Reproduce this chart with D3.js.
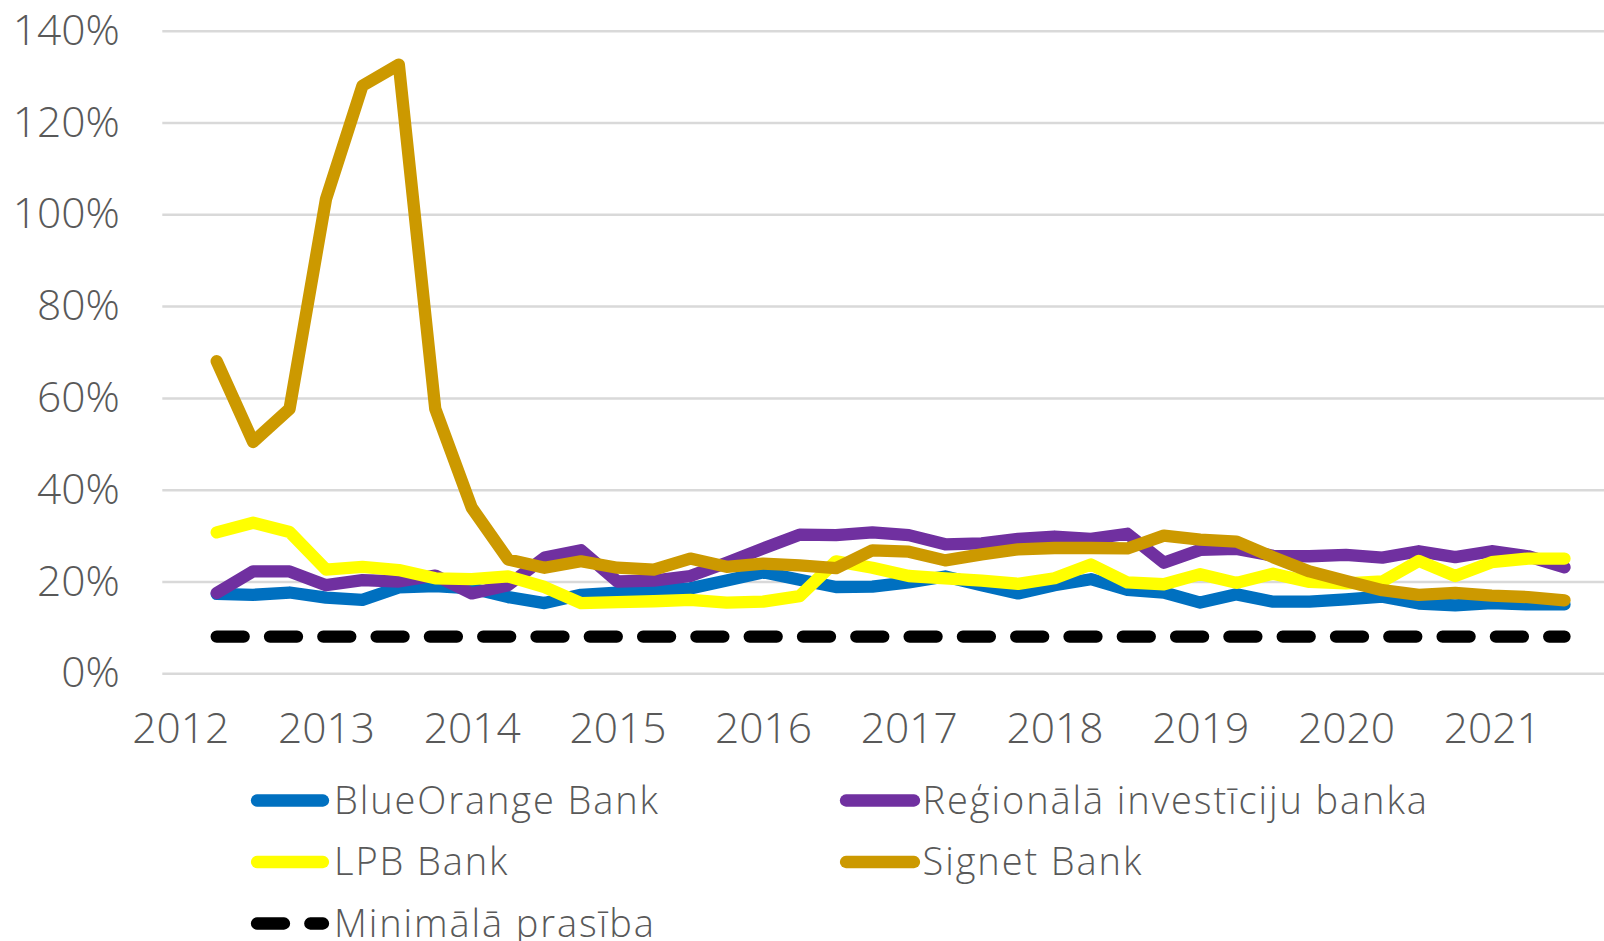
<!DOCTYPE html>
<html>
<head>
<meta charset="utf-8">
<script src="https://cdn.jsdelivr.net/npm/d3@7"></script>
<style>
  body { margin: 0; background: #fff; }
  svg { display: block; font-family: "Open Sans", "Noto Sans", sans-serif; font-weight: 300; }
</style>
</head>
<body>
<div id="vis"></div>
<script>
// quarters 2012Q2 .. 2021Q3 (38 points), values in %
const years = [2012, 2013, 2014, 2015, 2016, 2017, 2018, 2019, 2020, 2021];
const yTicks = [0, 20, 40, 60, 80, 100, 120, 140];

const blueOrange = [17.3, 17.1, 17.6, 16.5, 16.0, 18.7, 19.0, 18.5, 16.6, 15.3,
                    17.1, 17.6, 18.0, 18.5, 20.2, 22.0, 20.4, 18.8, 18.9, 19.8,
                    21.1, 19.2, 17.4, 19.2, 20.5, 18.2, 17.6, 15.4, 17.2, 15.6,
                    15.6, 16.1, 16.7, 15.2, 14.8, 15.3, 15.0, 15.0];
const regionala = [17.5, 22.2, 22.2, 19.2, 20.3, 20.0, 21.3, 17.4, 19.2, 25.2,
                   26.8, 20.0, 20.2, 21.2, 24.1, 27.2, 30.2, 30.1, 30.7, 30.1,
                   28.1, 28.3, 29.3, 29.8, 29.3, 30.4, 24.1, 26.9, 27.1, 25.6,
                   25.5, 25.8, 25.2, 26.6, 25.3, 26.6, 25.5, 23.1];
const lpb = [30.7, 32.8, 30.8, 22.6, 23.2, 22.5, 20.7, 20.5, 21.1, 18.8,
             15.3, 15.5, 15.7, 16.0, 15.4, 15.6, 16.8, 24.4, 23.0, 21.2,
             20.7, 20.2, 19.5, 20.7, 23.7, 19.8, 19.4, 21.6, 19.7, 21.7,
             19.9, 19.6, 20.0, 24.5, 21.2, 24.2, 25.0, 25.0];
const signet = [68.0, 50.4, 57.6, 103.3, 128.0, 132.6, 57.6, 36.1, 24.8, 23.0,
                24.4, 23.0, 22.6, 25.0, 23.2, 23.9, 23.5, 22.9, 26.8, 26.5,
                24.6, 25.9, 27.0, 27.3, 27.3, 27.2, 30.0, 29.1, 28.7, 25.3,
                22.2, 20.1, 18.1, 17.1, 17.5, 16.9, 16.6, 15.9];
const minimala = [8, 8, 8, 8, 8, 8, 8, 8, 8, 8,
                  8, 8, 8, 8, 8, 8, 8, 8, 8, 8,
                  8, 8, 8, 8, 8, 8, 8, 8, 8, 8,
                  8, 8, 8, 8, 8, 8, 8, 8];

const seriesNames = ["BlueOrange Bank", "Reģionālā investīciju banka", "LPB Bank", "Signet Bank", "Minimālā prasība"];
const seriesValues = [blueOrange, regionala, lpb, signet, minimala];
const seriesColors = ["#0070C0", "#7030A0", "#FFFF00", "#CC9900", "#000000"];
const seriesDashed = [false, false, false, false, true];

const WIDTH = 1604;
const HEIGHT = 941;
const PLOT_LEFT = 162.3;
const PLOT_RIGHT = 1604;
const PLOT_TOP = 30.7;
const PLOT_BOTTOM = 673.3;
const LINE_WIDTH = 12.3;
const TEXT_COLOR = "#595959";
const AXIS_FONT = 42.5;
const LEGEND_FONT = 38;

// x: quarter offset from 2012Q1
const x = d3.scaleLinear().domain([1, 38]).range([216.7, 1564.5]);
const y = d3.scaleLinear().domain([0, 140]).range([PLOT_BOTTOM, PLOT_TOP]);

const svg = d3.select("#vis").append("svg")
    .attr("width", WIDTH)
    .attr("height", HEIGHT);

svg.append("rect").attr("width", WIDTH).attr("height", HEIGHT).attr("fill", "#fff");

// y axis + gridlines
const yAxis = svg.append("g")
    .attr("transform", "translate(" + PLOT_LEFT + ",0)")
    .call(d3.axisLeft(y)
        .tickValues(yTicks)
        .tickSize(-(PLOT_RIGHT - PLOT_LEFT))
        .tickPadding(42.5)
        .tickFormat(function (d) { return d + "%"; }))
    .attr("font-family", null)
    .attr("font-size", AXIS_FONT);
yAxis.select(".domain").remove();
yAxis.selectAll("line").attr("stroke", "#D9D9D9").attr("stroke-width", 2.5);
yAxis.selectAll("text")
    .attr("fill", TEXT_COLOR)
    .attr("dy", "0.32em");

// x axis labels (years at Q1 positions)
const xAxis = svg.append("g")
    .attr("transform", "translate(0," + PLOT_BOTTOM + ")")
    .call(d3.axisBottom(x)
        .tickValues(years.map(function (yr) { return (yr - 2012) * 4; }))
        .tickSize(0)
        .tickPadding(39.6)
        .tickFormat(function (d) { return 2012 + d / 4; }))
    .attr("font-family", null)
    .attr("font-size", AXIS_FONT);
xAxis.select(".domain").remove();
xAxis.selectAll("text")
    .attr("fill", TEXT_COLOR);

// series lines
const line = d3.line()
    .x(function (d, i) { return x(i + 1); })
    .y(function (d) { return y(d); });

svg.append("g").selectAll("path")
    .data(seriesValues)
    .enter()
    .append("path")
    .attr("d", line)
    .attr("fill", "none")
    .attr("stroke", function (d, i) { return seriesColors[i]; })
    .attr("stroke-width", LINE_WIDTH)
    .attr("stroke-linecap", "round")
    .attr("stroke-linejoin", "round")
    .attr("stroke-dasharray", function (d, i) { return seriesDashed[i] ? "27 26.3" : null; });

// legend, two columns
const legendCols = [257, 846];
const legendRows = [800.5, 862, 923.5];
const legend = svg.append("g").selectAll("g")
    .data(seriesNames)
    .enter()
    .append("g")
    .attr("transform", function (d, i) {
        return "translate(" + legendCols[i % 2] + "," + legendRows[Math.floor(i / 2)] + ")";
    });

legend.append("line")
    .attr("x1", 0)
    .attr("x2", function (d, i) { return i % 2 ? 68 : 66; })
    .attr("y1", 0)
    .attr("y2", 0)
    .attr("stroke", function (d, i) { return seriesColors[i]; })
    .attr("stroke-width", LINE_WIDTH)
    .attr("stroke-linecap", "round")
    .attr("stroke-dasharray", function (d, i) { return seriesDashed[i] ? "27 26.3" : null; });

legend.append("text")
    .attr("x", function (d, i) { return i % 2 ? 76.6 : 77; })
    .attr("dy", "0.35em")
    .attr("fill", TEXT_COLOR)
    .attr("font-size", LEGEND_FONT)
    .attr("letter-spacing", 1.9)
    .text(function (d) { return d; });
</script>
</body>
</html>
